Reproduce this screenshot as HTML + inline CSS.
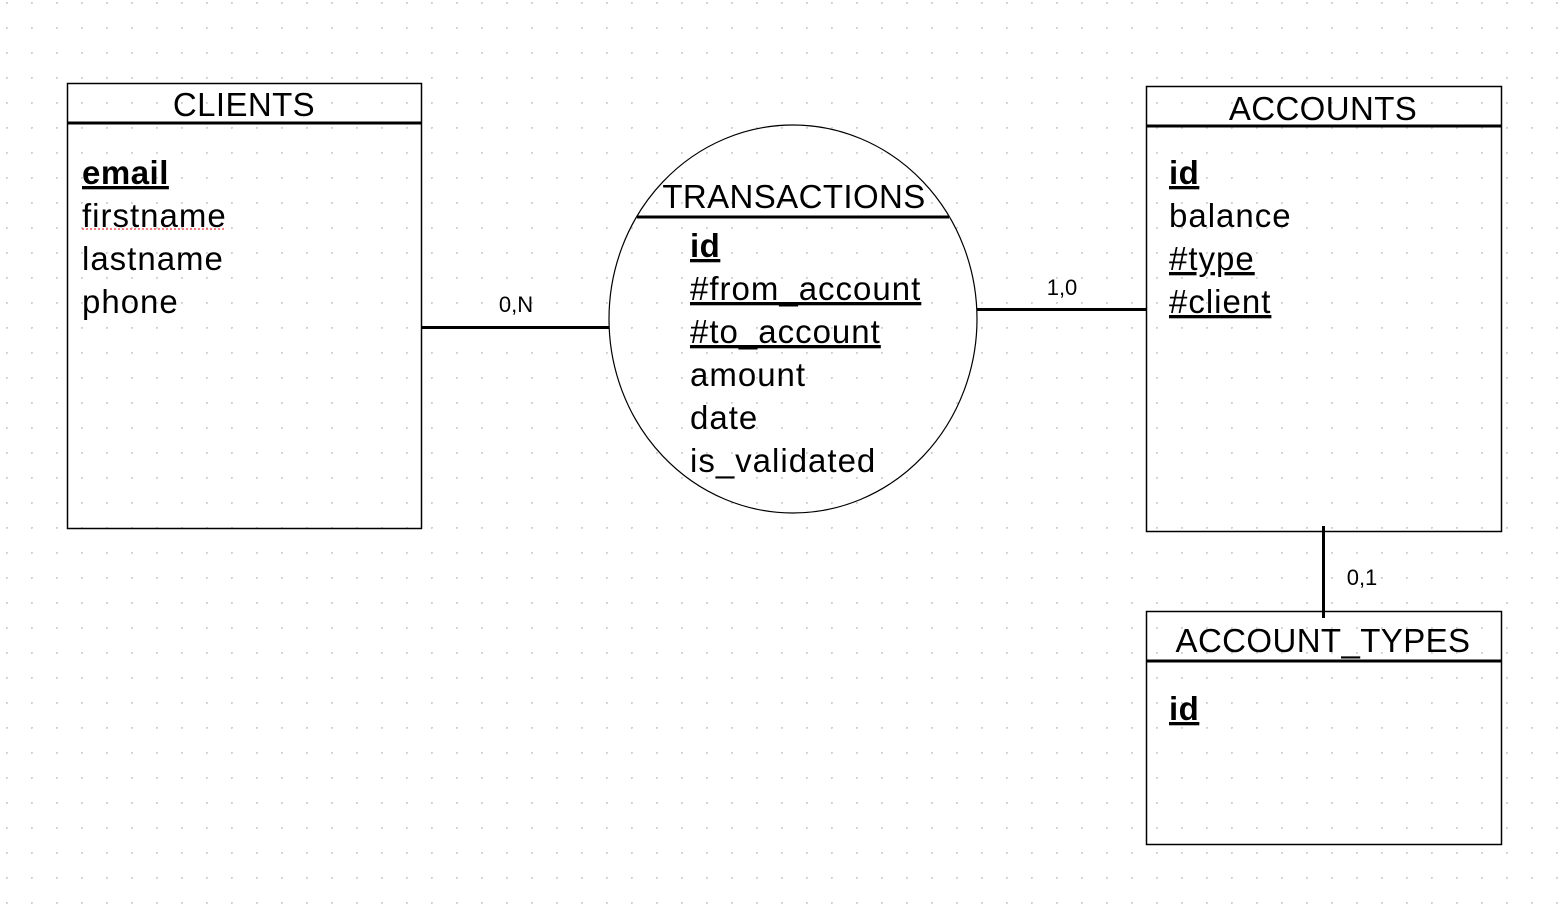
<!DOCTYPE html>
<html><head><style>
html,body{margin:0;padding:0;background:#fff}
svg{display:block}
text{font-family:"Liberation Sans",sans-serif;fill:#000}
.t{font-size:33px;letter-spacing:1px}
.h{font-size:33px;letter-spacing:0.4px}
.b{font-weight:bold;text-decoration:underline;letter-spacing:0.5px}
.u{text-decoration:underline}
.s{font-size:22px}
</style></head><body>
<svg width="1568" height="908" xmlns="http://www.w3.org/2000/svg">
<defs><pattern id="d" x="6" y="2" width="25" height="25" patternUnits="userSpaceOnUse"><circle cx="0.5" cy="0.5" r="1.5" fill="#d0d0d0"/></pattern></defs>
<rect x="0" y="0" width="1568" height="908" fill="url(#d)"/>

<!-- CLIENTS -->
<rect x="67.5" y="83.5" width="354" height="445" fill="none" stroke="#000" stroke-width="1.5"/>
<line x1="67" y1="123" x2="421" y2="123" stroke="#000" stroke-width="3"/>
<text class="h" x="244" y="116" text-anchor="middle">CLIENTS</text>
<text class="t b" x="82" y="184">email</text>
<text class="t" x="82" y="227">firstname</text>
<line x1="82" y1="229" x2="224" y2="229" stroke="#e33" stroke-width="1.2" stroke-dasharray="2,2"/>
<text class="t" x="82" y="270">lastname</text>
<text class="t" x="82" y="313">phone</text>

<!-- TRANSACTIONS -->
<ellipse cx="793" cy="319" rx="184" ry="194" fill="none" stroke="#000" stroke-width="1.2"/>
<line x1="637" y1="217" x2="949" y2="217" stroke="#000" stroke-width="3"/>
<text class="h" x="794" y="208" text-anchor="middle">TRANSACTIONS</text>
<text class="t b" x="690" y="257">id</text>
<text class="t u" x="690" y="300">#from_account</text>
<text class="t u" x="690" y="343">#to_account</text>
<text class="t" x="690" y="386">amount</text>
<text class="t" x="690" y="429">date</text>
<text class="t" x="690" y="472">is_validated</text>

<!-- ACCOUNTS -->
<rect x="1146.5" y="86.5" width="355" height="445" fill="none" stroke="#000" stroke-width="1.5"/>
<line x1="1146" y1="126" x2="1501" y2="126" stroke="#000" stroke-width="3"/>
<text class="h" x="1323" y="120" text-anchor="middle">ACCOUNTS</text>
<text class="t b" x="1169" y="184">id</text>
<text class="t" x="1169" y="227">balance</text>
<text class="t u" x="1169" y="270">#type</text>
<text class="t u" x="1169" y="313">#client</text>

<!-- ACCOUNT_TYPES -->
<rect x="1146.5" y="611.5" width="355" height="233" fill="none" stroke="#000" stroke-width="1.5"/>
<line x1="1146" y1="661" x2="1501" y2="661" stroke="#000" stroke-width="3"/>
<text class="h" x="1323" y="652" text-anchor="middle">ACCOUNT_TYPES</text>
<text class="t b" x="1169" y="720">id</text>

<!-- connectors -->
<line x1="421" y1="327.5" x2="609" y2="327.5" stroke="#000" stroke-width="3"/>
<text class="s" x="516" y="312" text-anchor="middle">0,N</text>
<line x1="977" y1="309.5" x2="1146" y2="309.5" stroke="#000" stroke-width="3"/>
<text class="s" x="1062" y="295" text-anchor="middle">1,0</text>
<line x1="1323.5" y1="526" x2="1323.5" y2="618" stroke="#000" stroke-width="3"/>
<text class="s" x="1362" y="585" text-anchor="middle">0,1</text>
</svg>
</body></html>
